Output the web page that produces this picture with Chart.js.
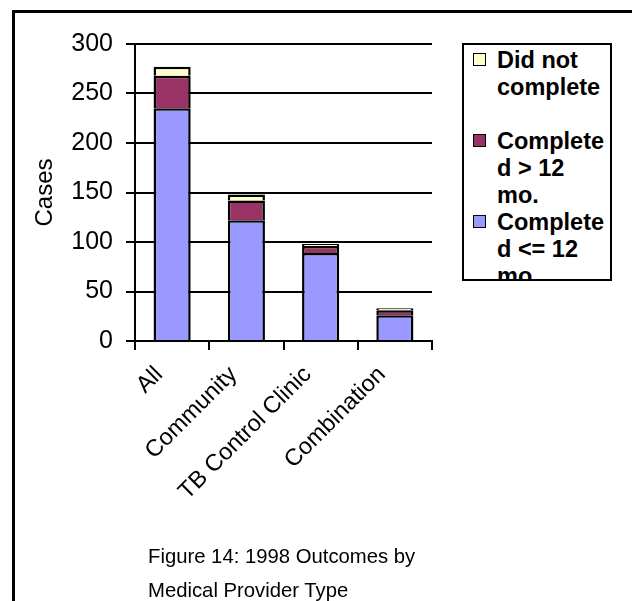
<!DOCTYPE html>
<html>
<head>
<meta charset="utf-8">
<script src="https://cdn.jsdelivr.net/npm/chart.js@4.4.1/dist/chart.umd.min.js"></script>
<style>
  body { margin: 0; background: #fff; }
  #wrap { position: relative; width: 632px; height: 601px; overflow: hidden; background: #fff;
          font-family: "Liberation Sans", Arial, sans-serif; }
  #frame { position: absolute; left: 12px; top: 10px; right: -10px; bottom: -10px;
           border-left: 3px solid #000; border-top: 3px solid #000; }
  #myChart { position: absolute; left: 0; top: 0; }
  #legend { position: absolute; left: 462px; top: 43px; width: 146px; height: 234px;
            border: 2px solid #000; background: #fff; overflow: hidden; }
  .item { position: absolute; left: 0; right: 0; font-weight: bold; font-size: 23.5px; line-height: 27px; color: #000; }
  .swatch { position: absolute; left: 9px; top: 6px; width: 11px; height: 11px; border: 1.5px solid #000; }
  .txt { position: absolute; left: 33px; top: 0; white-space: nowrap; }
  #caption { position: absolute; left: 148px; top: 539px; font-size: 20.3px; line-height: 34px; color: #000; }
</style>
</head>
<body>
<div id="wrap">
  <div id="frame"></div>
  <canvas id="myChart" width="632" height="601"></canvas>
  <div id="legend"></div>
  <div id="caption">Figure 14: 1998 Outcomes by<br>Medical Provider Type</div>
</div>
<script>
// provider types and case counts per outcome
const categories = ['All', 'Community', 'TB Control Clinic', 'Combination'];
const within12 = [235, 122, 89, 26];
const over12 = [33, 20, 7, 5];
const notComplete = [9, 6, 2, 2];
const yTicks = [0, 50, 100, 150, 200, 250, 300];

// legend wording, broken the way the legend box wraps it
const legendLines = {
  notComplete: ['Did not', 'complete'],
  over12: ['Complete', 'd > 12', 'mo.'],
  within12: ['Complete', 'd <= 12', 'mo.']
};

const family = '"Liberation Sans", Arial, sans-serif';

const ctx = document.getElementById('myChart');

const chart = new Chart(ctx, {
  type: 'bar',
  data: {
    labels: categories,
    datasets: [
      { key: 'within12', label: 'Completed <= 12 mo.', data: within12, backgroundColor: '#9999FF' },
      { key: 'over12', label: 'Completed > 12 mo.', data: over12, backgroundColor: '#993366' },
      { key: 'notComplete', label: 'Did not complete', data: notComplete, backgroundColor: '#FFFFCC' }
    ].map(d => Object.assign(d, {
      borderColor: '#000',
      borderWidth: 2.5,
      borderSkipped: 'start',
      categoryPercentage: 1,
      barPercentage: 0.5
    }))
  },
  options: {
    responsive: false,
    animation: false,
    layout: { padding: { top: 44, right: 200, left: 0, bottom: 0 } },
    plugins: {
      legend: { display: false },
      tooltip: { enabled: false }
    },
    scales: {
      x: {
        stacked: true,
        afterFit: s => { s.height = 260; },
        grid: { offset: true, drawOnChartArea: false, color: '#000', lineWidth: 2, tickLength: 9 },
        border: { color: '#000', width: 2 },
        ticks: {
          color: '#000',
          font: { family: family, size: 23.5 },
          minRotation: 45,
          maxRotation: 45,
          labelOffset: -13,
          padding: 11,
          autoSkip: false
        }
      },
      y: {
        stacked: true,
        min: 0,
        max: 300,
        afterFit: s => { s.width = 135; },
        afterBuildTicks: s => { s.ticks = yTicks.map(v => ({ value: v })); },
        grid: { color: '#000', lineWidth: 2, tickLength: 9 },
        border: { color: '#000', width: 2 },
        ticks: { color: '#000', font: { family: family, size: 25 }, padding: 13 },
        title: {
          display: true,
          text: 'Cases',
          color: '#000',
          font: { family: family, size: 24 },
          padding: { top: 31, bottom: 0 }
        }
      }
    }
  }
});

// legend box built from the datasets, top entry first
const legend = document.getElementById('legend');
chart.data.datasets.slice().reverse().forEach((ds, i) => {
  const item = document.createElement('div');
  item.className = 'item';
  item.style.top = (2 + i * 81) + 'px';
  const sw = document.createElement('div');
  sw.className = 'swatch';
  sw.style.background = ds.backgroundColor;
  const txt = document.createElement('div');
  txt.className = 'txt';
  txt.innerHTML = legendLines[ds.key].join('<br>');
  item.appendChild(sw);
  item.appendChild(txt);
  legend.appendChild(item);
});
</script>
</body>
</html>
